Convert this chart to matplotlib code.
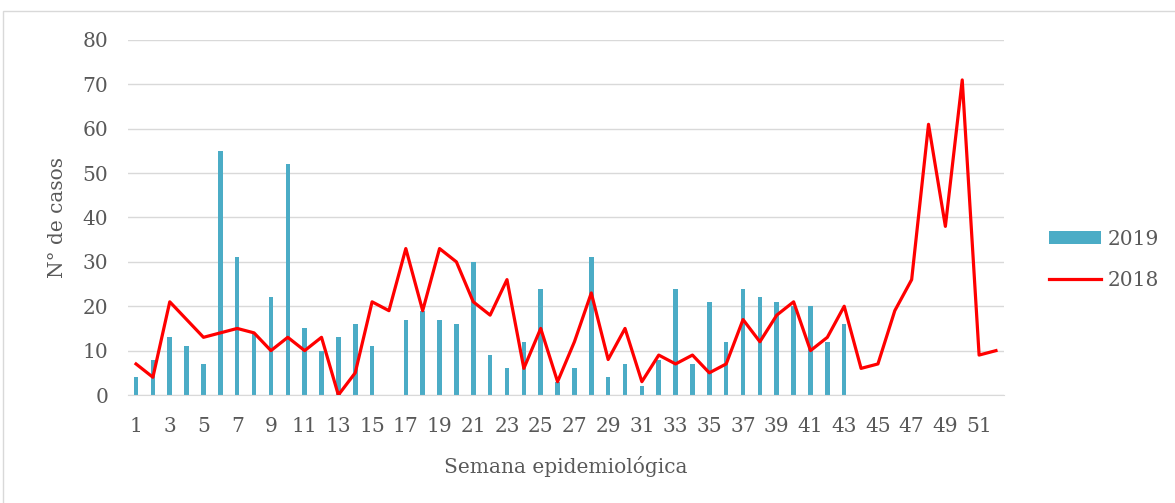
import numpy as np
import matplotlib
matplotlib.use('Agg')
import matplotlib.pyplot as plt
from matplotlib.patches import Rectangle

# Datos por semana epidemiológica
semanas = list(range(1, 53))
casos_2019 = [4, 8, 13, 11, 7, 55, 31, 14, 22, 52, 15, 10, 13, 16, 11, 0,
              17, 19, 17, 16, 30, 9, 6, 12, 24, 3, 6, 31, 4, 7, 2, 8,
              24, 7, 21, 12, 24, 22, 21, 20, 20, 12, 16]
casos_2018 = [7, 4, 21, 17, 13, 14, 15, 14, 10, 13, 10, 13, 0, 5, 21, 19,
              33, 19, 33, 30, 21, 18, 26, 6, 15, 3, 12, 23, 8, 15, 3, 9,
              7, 9, 5, 7, 17, 12, 18, 21, 10, 13, 20, 6, 7, 19, 26, 61,
              38, 71, 9, 10]
etiquetas_x = [str(s) if s % 2 == 1 else '' for s in semanas]
etiquetas_y = [0, 10, 20, 30, 40, 50, 60, 70, 80]

texto = '#595959'
plt.rcParams['font.family'] = ['DejaVu Serif']

fig = plt.figure(figsize=(11.75, 5.03), dpi=100)
ax = fig.add_axes([0.1086, 0.2147, 0.7462, 0.7058])

# borde del gráfico
fig.patches.append(Rectangle((3 / 1175, -0.1), 1.2, 1 - 11 / 503 + 0.1,
                             transform=fig.transFigure, fill=False,
                             edgecolor='#D9D9D9', linewidth=1))

barras = ax.bar(semanas[:len(casos_2019)], casos_2019, width=0.27,
                color='#4BACC6', label='2019', zorder=2)
linea, = ax.plot(semanas, casos_2018, color='#FF0000', linewidth=2.3,
                 label='2018', zorder=3)

ax.set_xlim(0.5, 52.5)
ax.set_ylim(0, 80)
ax.set_yticks(etiquetas_y)
ax.set_xticks(semanas)
ax.set_xticklabels(etiquetas_x)
ax.grid(axis='y', color='#D9D9D9', linewidth=1, zorder=0)
for s in ['top', 'right', 'left']:
    ax.spines[s].set_visible(False)
ax.spines['bottom'].set_color('#D9D9D9')
ax.tick_params(axis='both', length=0, labelsize=14.5, labelcolor=texto)
ax.tick_params(axis='x', pad=16)
ax.tick_params(axis='y', pad=14)

ax.set_xlabel('Semana epidemiológica', fontsize=14.5, color=texto, labelpad=14)
ax.set_ylabel('N° de casos', fontsize=14.5, color=texto, labelpad=11)

fig.legend(handles=[barras, linea], labels=['2019', '2018'],
           loc='center left', bbox_to_anchor=(1049 / 1175, 1 - 260 / 503),
           frameon=False, fontsize=14.5, labelcolor=texto, handlelength=2.6,
           handleheight=0.6, labelspacing=1.1, borderpad=0, borderaxespad=0,
           handletextpad=0.3)

fig.savefig('out.png', dpi=100)
